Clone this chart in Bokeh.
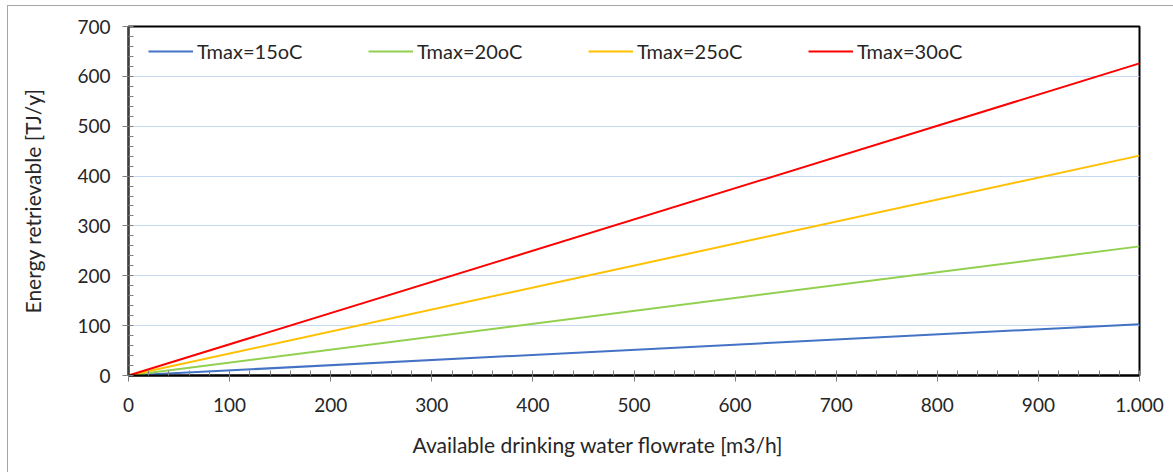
from bokeh.plotting import figure
from bokeh.models import FixedTicker, Legend, LegendItem, Range1d, Title
from bokeh.embed import file_html
from bokeh.resources import INLINE

# ---- data ----
flow = [0, 1000]
series_names = ["Tmax=15oC", "Tmax=20oC", "Tmax=25oC", "Tmax=30oC"]
energy_15 = [0, 103]
energy_20 = [0, 259]
energy_25 = [0, 441]
energy_30 = [0, 626]
colors = ["#4472C4", "#92D050", "#FFC000", "#FF0000"]
x_ticks = [0, 100, 200, 300, 400, 500, 600, 700, 800, 900, 1000]
x_tick_labels = ["0", "100", "200", "300", "400", "500", "600", "700", "800", "900", "1.000"]
y_ticks = [0, 100, 200, 300, 400, 500, 600, 700]

FONT = "Lato"
TXT = "#262626"

p = figure(width=1166, height=467, output_backend="svg", toolbar_location=None,
           x_range=Range1d(0, 1000), y_range=Range1d(0, 700),
           min_border_left=120, min_border_right=35, min_border_top=20, min_border_bottom=98)
p.margin = (5, 0, 0, 7)
p.styles = {"border-top": "1px solid #a6a6a6", "border-left": "1px solid #a6a6a6"}

p.outline_line_color = "black"
p.outline_line_width = 2
p.background_fill_color = "white"
p.border_fill_color = "white"

p.xgrid.visible = False
p.ygrid.grid_line_color = "#c6d9f1"
p.ygrid.grid_line_width = 1

p.xaxis.ticker = FixedTicker(ticks=x_ticks, minor_ticks=list(range(0, 1001, 20)))
p.xaxis.major_label_overrides = {t: l for t, l in zip(x_ticks, x_tick_labels)}
p.yaxis.ticker = FixedTicker(ticks=y_ticks, minor_ticks=list(range(0, 701, 20)))

for ax in (p.xaxis[0], p.yaxis[0]):
    ax.major_label_text_font = FONT
    ax.major_label_text_font_size = "19px"
    ax.major_label_text_color = TXT
    ax.axis_label_text_font = FONT
    ax.axis_label_text_font_size = "21px"
    ax.axis_label_text_font_style = "normal"
    ax.axis_label_text_color = TXT
    ax.major_tick_in = 0
    ax.major_tick_out = 6
    ax.minor_tick_in = 5
    ax.minor_tick_out = 0
    ax.major_tick_line_color = "#808080"
    ax.minor_tick_line_color = "#808080"

p.xaxis.axis_line_color = "black"
p.xaxis.axis_line_width = 2
p.yaxis.axis_line_color = "#404040"
p.yaxis.axis_line_width = 2
p.xaxis.major_label_standoff = 16
p.yaxis.major_label_standoff = 12
p.yaxis.axis_label = "Energy retrievable [TJ/y]"
p.yaxis.axis_label_standoff = 29

# x-axis title (slightly left of centre as in the reference)
xtitle = Title(text="Available drinking water flowrate [m3/h]", align="left", offset=284,
               standoff=30, vertical_align="bottom", text_font=FONT, text_font_size="21px",
               text_font_style="normal", text_color=TXT)
p.add_layout(xtitle, "below")

series = [energy_15, energy_20, energy_25, energy_30]
items = []
for name, vals, c in zip(series_names, series, colors):
    r = p.line(flow, vals, line_color=c, line_width=2)
    items.append(LegendItem(label=name, renderers=[r]))

legend = Legend(items=items, orientation="horizontal", location=(20, 312),
                margin=0, padding=0, border_line_color=None, background_fill_alpha=0,
                glyph_width=45, glyph_height=10, label_standoff=4, label_width=156, spacing=15,
                label_text_font=FONT, label_text_font_size="20px", label_text_color=TXT)
p.add_layout(legend)

open("out.html", "w").write(file_html(p, INLINE))
